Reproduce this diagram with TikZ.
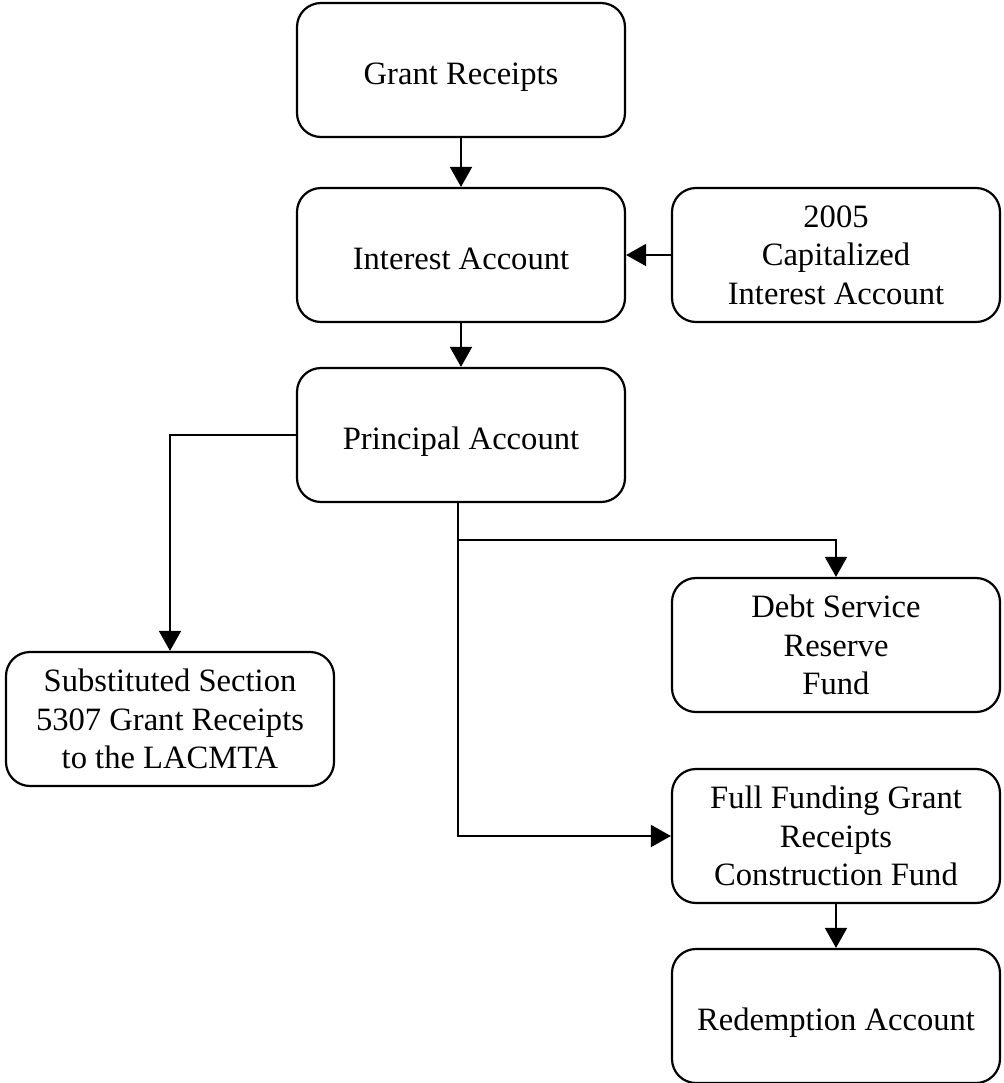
\documentclass[tikz,border=0pt]{standalone}
\usepackage{fontspec}
\setmainfont{Liberation Serif}
\usetikzlibrary{arrows.meta}

\begin{document}
\begin{tikzpicture}[x=0.5pt,y=-0.5pt,
    acct/.style={draw,line width=1.1pt,rounded corners=12pt,
      minimum width=164pt,minimum height=67pt,align=center,text depth=0pt,
      font=\fontsize{16.3}{19.2}\selectfont},
    oneline/.style={acct,text height=14pt},
    flow/.style={line width=0.9pt,-{Triangle[length=10pt,width=11pt]}}]
  \useasboundingbox (0,0) rectangle (1003,1083);

  \node[oneline] (grant)    at (461,70)   {Grant Receipts};
  \node[oneline] (interest) at (461,255)  {Interest Account};
  \node[acct] (capint)      at (836,255)  {2005\\Capitalized\\Interest Account};
  \node[oneline] (principal) at (461,435) {Principal Account};
  \node[acct] (subst)       at (170,719)  {Substituted Section\\5307 Grant Receipts\\to the LACMTA};
  \node[acct] (debtres)     at (836,645)  {Debt Service\\Reserve\\Fund};
  \node[acct] (fullfund)    at (836,836)  {Full Funding Grant\\Receipts\\Construction Fund};
  \node[oneline] (redemp)   at (836,1016) {Redemption Account};

  \path[flow]
    (grant)    edge (interest)
    (capint)   edge (interest)
    (interest) edge (principal)
    (fullfund) edge (redemp);
  \draw[flow] (principal.west) -| (subst.north);
  \coordinate (fork) at (458,540);
  \draw[flow] (principal.south -| fork) -- (fork) -| (debtres.north);
  \draw[flow] (fork) |- (fullfund.west);

\end{tikzpicture}
\end{document}
